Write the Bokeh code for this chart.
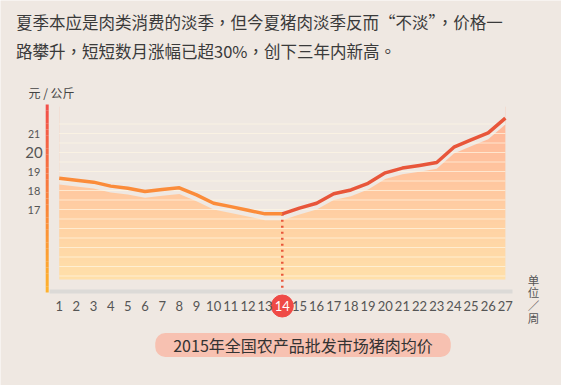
import numpy as np
from bokeh.plotting import figure
from bokeh.models import Range1d, Label
from bokeh.core.properties import value
from bokeh.embed import file_html
from bokeh.resources import INLINE

# ---- data ----
weeks = list(range(1, 28))
price = [18.65, 18.54, 18.44, 18.23, 18.12, 17.95, 18.05, 18.14, 17.77,
         17.33, 17.15, 16.96, 16.77, 16.77, 17.07, 17.33, 17.83, 18.03,
         18.38, 18.93, 19.18, 19.32, 19.47, 20.28, 20.66, 21.03, 21.81]
y_ticks = [17, 18, 19, 20, 21]
y_tick_labels = ["17", "18", "19", "20", "21"]
x_tick_labels = [str(w) for w in weeks]
highlight_week = 14

title_lines = ["夏季本应是肉类消费的淡季，但今夏猪肉淡季反而“不淡”，价格一",
               "路攀升，短短数月涨幅已超30%，创下三年内新高。"]
unit_y = "元 / 公斤"
unit_x_chars = ["单", "位", "／", "周"]
caption = "2015年全国农产品批发市场猪肉均价"

# ---- styling ----
BG = "#efe8e2"
CJK = "Noto Sans CJK SC"
W, H = 561, 385
px_per_week = 17.16
px_per_unit = 19.0
x0_px, y17_px = 58.7, 209.0   # screen position of week 1 / value 17

def wk(px):
    return 1 + (px - x0_px) / px_per_week

def val(py):
    return 17 + (y17_px - py) / px_per_unit

p = figure(width=W, height=H, output_backend="svg", toolbar_location=None,
           x_range=Range1d(wk(0), wk(W)), y_range=Range1d(val(H), val(0)),
           min_border=0, background_fill_color=BG, border_fill_color=BG,
           outline_line_color=None)
p.axis.visible = False
p.grid.visible = False

# gradient area (shadow under the line)
gap = 0.33
area_top = [v - gap for v in price]
base = val(279)
img_top = max(price) + 0.6
n = 80
img = np.empty((n, 1), dtype=np.uint32)
view = img.view(dtype=np.uint8).reshape((n, 1, 4))
bot_rgb = np.array([255, 224, 170])
top_rgb = np.array([255, 180, 152])
for i in range(n):
    t = i / (n - 1)
    c = bot_rgb + (top_rgb - bot_rgb) * t
    view[i, 0, :3] = c.astype(np.uint8)
    view[i, 0, 3] = 255
p.image_rgba(image=[img], x=weeks[0], y=base, dw=weeks[-1] - weeks[0], dh=img_top - base)
# mask above the area
p.patch(x=weeks + [weeks[-1], weeks[0]], y=area_top + [img_top + 0.2, img_top + 0.2],
        fill_color=BG, line_color=None)

# decorative horizontal lines
gl = list(np.arange(13.5, 21.51, 0.5))
p.segment(x0=weeks[0], x1=weeks[-1], y0=gl, y1=gl, line_color="#fff6e4",
          line_alpha=0.7, line_width=1)

# baseline
p.segment(x0=wk(49), x1=wk(512), y0=val(291), y1=val(291), line_color="#dcdad7",
          line_width=4)

# vertical axis bar with gradient
nseg = 30
ys = np.linspace(val(292), val(104), nseg + 1)
def lerp(a, b, t):
    return tuple(int(a[k] + (b[k] - a[k]) * t) for k in range(3))
cols = []
for i in range(nseg):
    t = i / (nseg - 1)
    if t < 0.5:
        c = lerp((255, 178, 46), (250, 130, 60), t / 0.5)
    else:
        c = lerp((250, 130, 60), (242, 80, 74), (t - 0.5) / 0.5)
    cols.append("#%02x%02x%02x" % c)
p.segment(x0=wk(46.7), x1=wk(46.7), y0=ys[:-1], y1=ys[1:], line_color=cols,
          line_width=3)

# dotted marker
hi = weeks.index(highlight_week)
p.segment(x0=highlight_week, x1=highlight_week, y0=price[hi], y1=val(290),
          line_color="#e9573b", line_width=2.5, line_dash="2 4")

# price line
p.line(weeks[:hi + 1], price[:hi + 1], line_color="#fb8c3a", line_width=3.5,
       line_join="round")
p.line(weeks[hi:], price[hi:], line_color="#e8563a", line_width=3.5,
       line_join="round")

# x tick labels
p.scatter(x=[highlight_week], y=[val(305.5)], size=22, color="#ef4a46")
p.text(x=weeks, y=[val(305)] * len(weeks), text=x_tick_labels,
       text_align="center", text_baseline="middle",
       text_font=value("Lato"), text_font_size="13px",
       text_color=["#ffffff" if w == highlight_week else "#555555" for w in weeks])

# y tick labels
p.text(x=[wk(33.5)] * len(y_ticks), y=y_ticks, text=y_tick_labels,
       text_align="center", text_baseline="middle", text_font=value("Lato"),
       text_font_size=["11px", "11px", "11px", "15px", "10.5px"],
       text_color="#555555")

# texts
for i, line in enumerate(title_lines):
    p.add_layout(Label(x=15.5, y=H - (21 + 29 * i), x_units="screen", y_units="screen",
                       text=line, text_font="Noto Sans CJK TC", text_font_size="16.5px",
                       text_color="#3a3a3a", text_baseline="middle"))
p.add_layout(Label(x=28, y=H - 92, x_units="screen", y_units="screen", text=unit_y,
                   text_font=CJK, text_font_size="12px", text_color="#444444",
                   text_baseline="middle"))
for i, ch in enumerate(unit_x_chars):
    p.add_layout(Label(x=533, y=H - (279 + 12.8 * i), x_units="screen", y_units="screen",
                       text=ch, text_font=CJK, text_font_size="11.5px",
                       text_color="#555555", text_align="center",
                       text_baseline="middle"))
p.add_layout(Label(x=302.5, y=H - 344.5, x_units="screen", y_units="screen",
                   text=caption, text_font=CJK, text_font_size="16px",
                   text_color="#333333", text_align="center", text_baseline="middle",
                   background_fill_color="#f7c1b1", border_radius=10,
                   padding=dict(left=18, right=18, top=0, bottom=0)))

open("out.html", "w").write(file_html(p, INLINE))
